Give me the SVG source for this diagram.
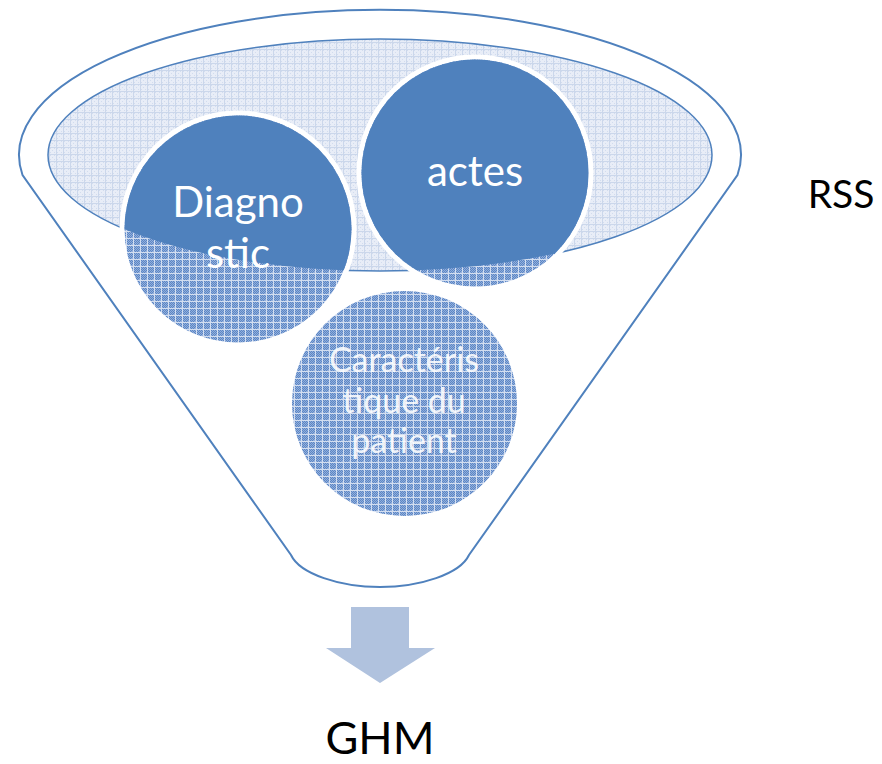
<svg xmlns="http://www.w3.org/2000/svg" width="882" height="764" viewBox="0 0 882 764">
<style>
.outline{fill:#fff;stroke:#4F81BD;stroke-width:2}
.lbl{font-family:Lato,"Open Sans","Liberation Sans",sans-serif;text-anchor:middle}
.w{fill:#fff}
.k{fill:#000}
</style>
<defs>
<pattern id="pBlue" width="7" height="7" patternUnits="userSpaceOnUse">
<rect width="7" height="7" fill="#93AFDC"/>
<rect x="1" y="1" width="1" height="1" fill="#5B86C4"/>
<rect x="3" y="1" width="1" height="1" fill="#5B86C4"/>
<rect x="5" y="1" width="1" height="1" fill="#5B86C4"/>
<rect x="2" y="2" width="1" height="1" fill="#5B86C4"/>
<rect x="4" y="2" width="1" height="1" fill="#5B86C4"/>
<rect x="1" y="3" width="1" height="1" fill="#5B86C4"/>
<rect x="3" y="3" width="1" height="1" fill="#5B86C4"/>
<rect x="5" y="3" width="1" height="1" fill="#5B86C4"/>
<rect x="2" y="4" width="1" height="1" fill="#5B86C4"/>
<rect x="4" y="4" width="1" height="1" fill="#5B86C4"/>
<rect x="6" y="4" width="1" height="1" fill="#5B86C4"/>
<rect x="1" y="5" width="1" height="1" fill="#5B86C4"/>
<rect x="3" y="5" width="1" height="1" fill="#5B86C4"/>
<rect x="5" y="5" width="1" height="1" fill="#5B86C4"/>
<rect x="2" y="6" width="1" height="1" fill="#5B86C4"/>
<rect x="4" y="6" width="1" height="1" fill="#5B86C4"/>
<rect x="6" y="2" width="1" height="1" fill="#5B86C4"/>
<rect width="7" height="1" fill="#D3DEF0"/>
<rect width="1" height="7" fill="#D3DEF0"/>
</pattern>
<pattern id="pLight" width="7" height="7" patternUnits="userSpaceOnUse">
<rect width="7" height="7" fill="#E8EDF7"/>
<rect x="1" y="1" width="1" height="1" fill="#D2DCEE"/>
<rect x="3" y="3" width="1" height="1" fill="#D2DCEE"/>
<rect x="5" y="5" width="1" height="1" fill="#D2DCEE"/>
<rect x="5" y="1" width="1" height="1" fill="#D2DCEE"/>
<rect x="1" y="5" width="1" height="1" fill="#D2DCEE"/>
<rect width="7" height="1" fill="#CBD7EB"/>
<rect width="1" height="7" fill="#CBD7EB"/>
</pattern>
<clipPath id="clipEll">
<ellipse cx="380" cy="155" rx="332" ry="116"/>
</clipPath>
</defs>

<g id="funnel">
<path class="outline" d="M22.5,175 A361,145 0 1 1 737.5,175 L469,555 C460,574 420,587 380,587 C340,587 300,574 291,555 Z"/>
<ellipse cx="380" cy="155" rx="332" ry="116" fill="url(#pLight)" stroke="#4F81BD" stroke-width="1.5"/>
</g>

<g id="node-diagnostic">
<circle cx="238" cy="229" r="116" fill="url(#pBlue)" stroke="#fff" stroke-width="5"/>
<circle cx="238" cy="229" r="113.5" fill="#4F81BD" clip-path="url(#clipEll)"/>
<text class="lbl w" x="238" y="217" font-size="42">Diagno</text>
<text class="lbl w" x="238" y="268" font-size="42">stic</text>
</g>

<g id="node-actes">
<circle cx="475" cy="173" r="116" fill="url(#pBlue)" stroke="#fff" stroke-width="5"/>
<circle cx="475" cy="173" r="113.5" fill="#4F81BD" clip-path="url(#clipEll)"/>
<text class="lbl w" x="475" y="186" font-size="42">actes</text>
</g>

<g id="node-caracteristique">
<circle cx="404.5" cy="403.5" r="112.5" fill="url(#pBlue)"/>
<g class="lbl" fill="#fff" fill-opacity="0.9" font-size="34">
<text x="404" y="372">Caractéris</text>
<text x="404" y="413">tique du</text>
<text x="404" y="453">patient</text>
</g>
</g>

<g id="connectors">
<path d="M351,607 H409 V648 H435 L380,683 L326,648 H351 Z" fill="#B0C2DE"/>
</g>

<g id="label-rss">
<text class="lbl k" x="841" y="208" font-size="39">RSS</text>
</g>
<g id="label-ghm">
<text class="lbl k" x="380" y="754" font-size="45">GHM</text>
</g>
</svg>
